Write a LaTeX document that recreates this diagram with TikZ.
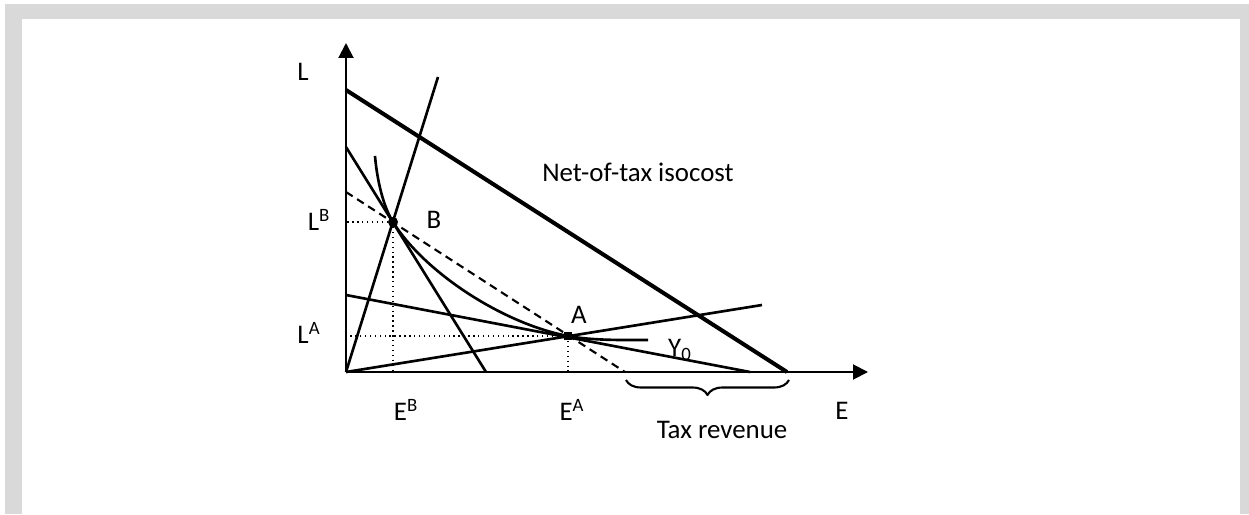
\documentclass[tikz,border=0pt]{standalone}
\usepackage{fontspec}
\setmainfont{Carlito}
\usepackage{tikz}
\usetikzlibrary{arrows.meta, decorations.pathreplacing}
\tikzset{>={Triangle[length=0.3cm,width=0.3cm]}}
\definecolor{framegrey}{HTML}{D9D9D9}

\begin{document}
\begin{tikzpicture}[line join=round,
  every node/.style={font=\fontsize{15.3}{18}\selectfont},
  axis/.style={line width=1.1pt},
  budget/.style={line width=1.5pt},
  isocost/.style={line width=2.3pt},
  guide/.style={line width=0.8pt, dotted},
  dashline/.style={line width=1.2pt, dash pattern=on 4.5pt off 3pt}]

% frame
\useasboundingbox (-6.92,-2.84) rectangle (18.06,7.44);
\fill[framegrey] (-6.82,-2.84) rectangle (18.06,7.36);
\fill[white] (-6.48,-2.84) rectangle (17.88,7.06);

\coordinate (O) at (0,0);
\coordinate (Ltop) at (0,6.58);
\coordinate (Eend) at (10.44,0);
\coordinate (B) at (0.94,3.0);
\coordinate (A) at (4.44,0.72);

% axes
\draw [axis,->] (O)--(Ltop);
\draw [axis,->] (O)--(Eend);

% net-of-tax isocost
\coordinate (N1) at (0,5.64);
\coordinate (N2) at (8.82,0);
\draw [isocost] (N1)--(N2);

% rays from origin
\coordinate (RB) at (1.84,5.90);
\coordinate (RA) at (8.32,1.34);
\draw [budget] (O)--(RB);
\draw [budget] (O)--(RA);

% isocosts through B and A
\coordinate (BL1) at (0,4.50);
\coordinate (BL2) at (2.80,0);
\coordinate (AL1) at (0,1.54);
\coordinate (AL2) at (8.08,0);
\draw [budget] (BL1)--(BL2);
\draw [budget] (AL1)--(AL2);

% dashed line
\coordinate (D1) at (0,3.60);
\coordinate (D2) at (5.58,0);
\draw [dashline] (D1)--(D2);

% isoquant Y0
\coordinate (Ytop) at (0.58,4.32);
\coordinate (Yend) at (6.04,0.64);
\draw [budget] (Ytop) .. controls (0.62,3.85) and (0.74,3.32) .. (B)
  .. controls (1.57,1.99) and (3.14,0.966) .. (A)
  .. controls (4.94,0.625) and (5.6,0.64) .. (Yend);

% guides
\draw [guide] (B)--(B -| O);
\draw [guide] (B)--(B |- O);
\draw [guide] (A)--(A -| O);
\draw [guide] (A)--(A |- O);

% points
\fill (B) circle (0.1);
\node (ptA) [fill, inner sep=0pt, minimum size=0.17cm] at (A) {};

% brace
\coordinate (T1) at (5.60,-0.16);
\coordinate (T2) at (8.86,-0.16);
\draw [line width=1.2pt, decorate, decoration={brace, mirror, amplitude=0.3cm}] (T1)--(T2);

% labels
\node (labL) at (-0.86,6.0) {L};
\node (labLB) at (-0.54,3.04) {L\textsuperscript{B}};
\node (labLA) at (-0.74,0.78) {L\textsuperscript{A}};
\node (labEB) at (1.2,-0.76) {E\textsuperscript{B}};
\node (labEA) at (4.52,-0.76) {E\textsuperscript{A}};
\node (labE) at (9.92,-0.78) {E};
\node (labB) at (1.76,3.04) {B};
\node (labA) at (4.66,1.14) {A};
\node (labY) at (6.68,0.44) {Y\textsubscript{0}};
\node (labTax) at (7.52,-1.16) {Tax revenue};
\node (labNet) at (5.84,4.0) {Net-of-tax isocost};

\end{tikzpicture}
\end{document}
